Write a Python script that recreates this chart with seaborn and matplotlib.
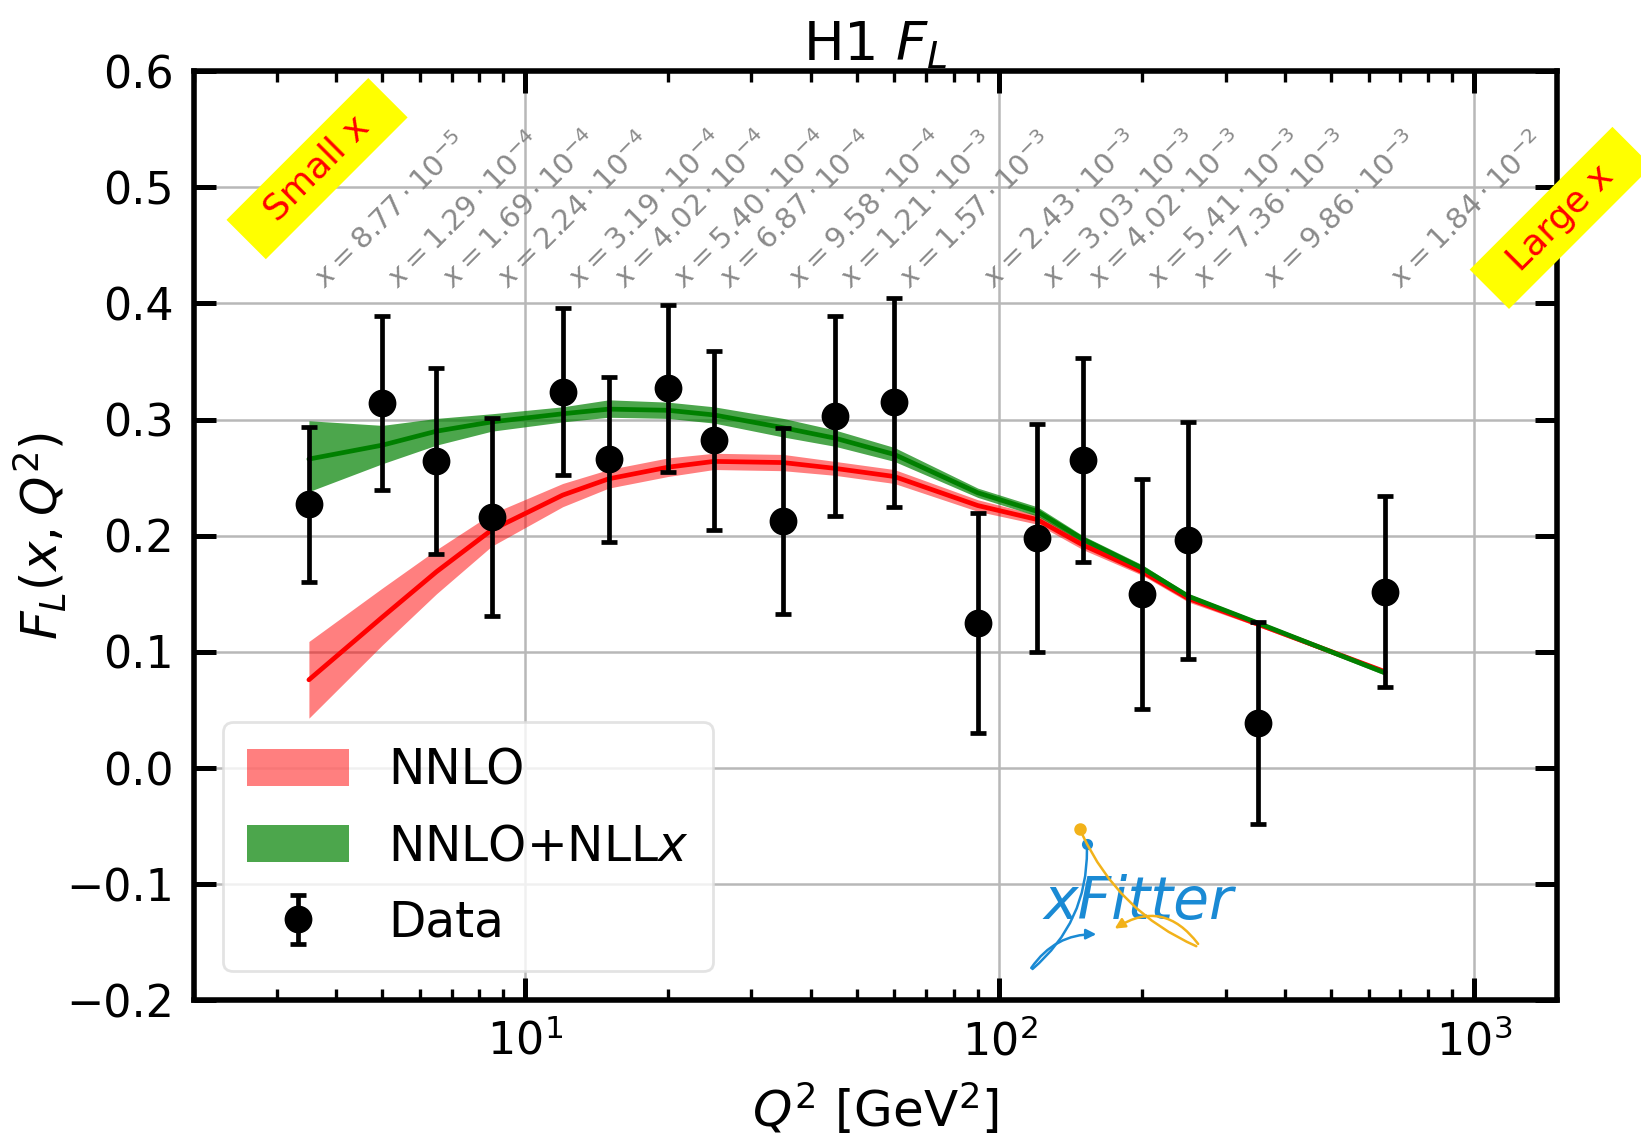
import numpy as np
import pandas as pd
import matplotlib
matplotlib.use("Agg")
import matplotlib.pyplot as plt
import seaborn as sns
from matplotlib.patches import Patch, FancyArrowPatch
from matplotlib.ticker import LogLocator, NullFormatter

# ---------------- data ----------------
q2 = [3.5, 5.0, 6.5, 8.5, 12, 15, 20, 25, 35, 45, 60, 90, 120, 150, 200, 250, 350, 650]
x_labels = ["8.77\\cdot10^{-5}", "1.29\\cdot10^{-4}", "1.69\\cdot10^{-4}", "2.24\\cdot10^{-4}",
            "3.19\\cdot10^{-4}", "4.02\\cdot10^{-4}", "5.40\\cdot10^{-4}", "6.87\\cdot10^{-4}",
            "9.58\\cdot10^{-4}", "1.21\\cdot10^{-3}", "1.57\\cdot10^{-3}", "2.43\\cdot10^{-3}",
            "3.03\\cdot10^{-3}", "4.02\\cdot10^{-3}", "5.41\\cdot10^{-3}", "7.36\\cdot10^{-3}",
            "9.86\\cdot10^{-3}", "1.84\\cdot10^{-2}"]
fl_data = [0.227, 0.314, 0.264, 0.216, 0.324, 0.266, 0.327, 0.282, 0.213, 0.303,
           0.315, 0.125, 0.198, 0.265, 0.150, 0.196, 0.039, 0.152]
fl_err = [0.067, 0.075, 0.080, 0.085, 0.072, 0.071, 0.072, 0.077, 0.080, 0.086,
          0.090, 0.095, 0.098, 0.088, 0.099, 0.102, 0.087, 0.082]

nnlo = [0.076, 0.130, 0.169, 0.205, 0.235, 0.249, 0.259, 0.264, 0.263, 0.258,
        0.251, 0.226, 0.214, 0.192, 0.169, 0.146, 0.124, 0.083]
nnlo_lo = [0.043, 0.106, 0.150, 0.191, 0.225, 0.241, 0.251, 0.257, 0.256, 0.252,
           0.245, 0.221, 0.210, 0.188, 0.166, 0.143, 0.122, 0.081]
nnlo_hi = [0.109, 0.155, 0.188, 0.219, 0.245, 0.257, 0.267, 0.271, 0.270, 0.264,
           0.257, 0.231, 0.218, 0.196, 0.172, 0.149, 0.126, 0.085]

nll = [0.266, 0.278, 0.290, 0.298, 0.305, 0.309, 0.308, 0.304, 0.293, 0.284,
       0.270, 0.237, 0.221, 0.197, 0.172, 0.148, 0.125, 0.082]
nll_lo = [0.238, 0.262, 0.278, 0.290, 0.298, 0.302, 0.301, 0.297, 0.285, 0.277,
          0.264, 0.233, 0.217, 0.194, 0.169, 0.146, 0.123, 0.080]
nll_hi = [0.299, 0.295, 0.301, 0.305, 0.311, 0.317, 0.315, 0.311, 0.301, 0.291,
          0.276, 0.241, 0.225, 0.200, 0.175, 0.150, 0.127, 0.084]

y_ticks = [-0.2, -0.1, 0.0, 0.1, 0.2, 0.3, 0.4, 0.5, 0.6]

df = pd.DataFrame({"Q2": q2, "NNLO": nnlo, "NLL": nll})

# ---------------- style ----------------
sns.set_theme(style="ticks")
plt.rcParams['font.family'] = ['DejaVu Sans']
plt.rcParams['mathtext.fontset'] = 'dejavusans'
plt.rcParams['axes.unicode_minus'] = True
for k in ["text.color", "axes.labelcolor", "xtick.color", "ytick.color",
          "xtick.labelcolor", "ytick.labelcolor", "axes.edgecolor"]:
    plt.rcParams[k] = "black"

fig = plt.figure(figsize=(8.205, 5.73), dpi=200)
ax = fig.add_axes([0.118, 0.127, 0.831, 0.811])

# bands
ax.fill_between(q2, nnlo_lo, nnlo_hi, color="red", alpha=0.5, lw=0, zorder=2)
ax.fill_between(q2, nll_lo, nll_hi, color="green", alpha=0.7, lw=0, zorder=2)
sns.lineplot(data=df, x="Q2", y="NNLO", color="red", lw=1.7, ax=ax, zorder=3)
sns.lineplot(data=df, x="Q2", y="NLL", color="green", lw=1.7, ax=ax, zorder=3)

# data
eb = ax.errorbar(q2, fl_data, yerr=fl_err, fmt="o", color="black", ms=9, elinewidth=1.7,
                 capsize=3, capthick=1.7, zorder=5)

ax.set_xscale("log")
ax.set_xlim(2.0, 1500)
ax.set_ylim(-0.2, 0.6)
ax.set_yticks(y_ticks)
ax.xaxis.set_major_locator(LogLocator(base=10, numticks=10))
ax.xaxis.set_minor_locator(LogLocator(base=10, subs=np.arange(2, 10), numticks=50))
ax.xaxis.set_minor_formatter(NullFormatter())

ax.grid(True, which="major", color="#b8b8b8", lw=0.9, zorder=0)
ax.set_axisbelow(True)

ax.tick_params(which="major", direction="in", top=True, right=True, length=8, width=1.8,
               labelsize=16, pad=7)
ax.tick_params(which="minor", direction="in", top=True, right=True, length=4, width=1.2)
ax.tick_params(axis="y", which="minor", left=False, right=False)
for sp in ax.spines.values():
    sp.set_linewidth(2.0)
    sp.set_color("black")

ax.set_xlabel("$Q^2$ [GeV$^2$]", fontsize=18, labelpad=6)
ax.set_ylabel("$F_L(x, Q^2)$", fontsize=18, labelpad=-1)
ax.set_title("H1 $F_L$", fontsize=19.5, pad=4)

# x labels (Bjorken-x)
for qq, lab in zip(q2, x_labels):
    ax.annotate(f"$x = {lab}$", xy=(qq, 0.412), xytext=(6, 0), textcoords="offset points",
                rotation=45, rotation_mode="anchor", ha="left", va="baseline",
                fontsize=10.5, color="#8a8a8a", zorder=4)

# Small x / Large x
ax.text(0.0905, 0.895, "  Small x  ", transform=ax.transAxes, rotation=45, color="red",
        fontsize=13, ha="center", va="center", rotation_mode="anchor",
        bbox=dict(boxstyle="square,pad=0.3", fc="yellow", ec="none"), zorder=6)
ax.text(1.0025, 0.842, "  Large x  ", transform=ax.transAxes, rotation=45, color="red",
        fontsize=13, ha="center", va="center", rotation_mode="anchor", clip_on=False,
        bbox=dict(boxstyle="square,pad=0.3", fc="yellow", ec="none"), zorder=6)

# legend
handles = [Patch(facecolor="red", alpha=0.5, lw=0),
           Patch(facecolor="green", alpha=0.7, lw=0),
           eb]
leg = ax.legend(handles=handles, labels=["NNLO", "NNLO+NLL$x$", "Data"],
                loc="lower left", fontsize=17.5, handlelength=2.1, handleheight=0.8,
                labelspacing=0.58, borderpad=0.5, borderaxespad=0.6, handletextpad=0.8,
                frameon=True, framealpha=0.8, edgecolor="#dddddd", fancybox=True)

# xFitter logo
blue = "#1a8ad4"
orange = "#f2b21a"
ax.text(0.693, 0.105, "xFitter", transform=ax.transAxes, fontsize=21, style="italic",
        color=blue, ha="center", va="center", zorder=6)
ax.plot([0.655], [0.168], "o", color=blue, ms=3, transform=ax.transAxes, zorder=6)
ax.plot([0.650], [0.184], "o", color=orange, ms=3.5, transform=ax.transAxes, zorder=6)
arrs = [
    ((0.655, 0.168), (0.612, 0.030), "arc3,rad=-0.25", blue, "-"),
    ((0.612, 0.030), (0.666, 0.071), "arc3,rad=-0.3", blue, "-|>"),
    ((0.650, 0.184), (0.739, 0.056), "arc3,rad=0.2", orange, "-"),
    ((0.739, 0.056), (0.672, 0.074), "arc3,rad=0.5", orange, "-|>"),
]
for p0, p1, cs, col, st in arrs:
    ax.add_patch(FancyArrowPatch(p0, p1, transform=ax.transAxes, connectionstyle=cs,
                                 arrowstyle=st + (",head_length=3,head_width=1.5" if st != "-" else ""),
                                 color=col, lw=0.9, zorder=6))

fig.savefig("out.png", dpi=200)
